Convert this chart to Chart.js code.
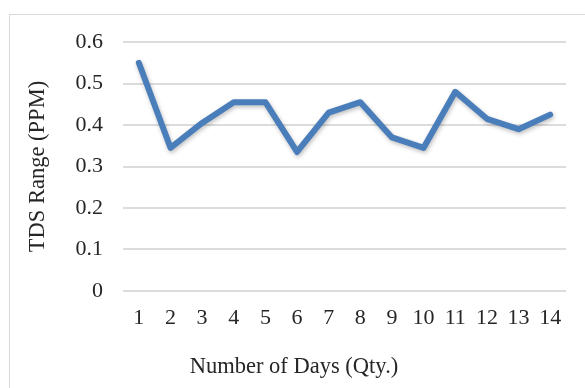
<!DOCTYPE html>
<html>
<head>
<meta charset="utf-8">
<script src="https://cdn.jsdelivr.net/npm/chart.js@4.4.0/dist/chart.umd.min.js"></script>
<style>
    html, body { margin: 0; padding: 0; background: #fff; overflow: hidden; }
    #wrap { position: relative; width: 585px; height: 388px; }
    #frame {
        position: absolute; left: 9px; top: 14px; width: 600px; height: 400px;
        border-left: 1px solid #d9d9d9; border-top: 1px solid #d9d9d9;
    }
    canvas { position: absolute; left: 0; top: 0; }
</style>
</head>
<body>
<div id="wrap">
    <div id="frame"></div>
    <canvas id="tdsChart" width="585" height="388"></canvas>
</div>
<script>
    const days = ['1', '2', '3', '4', '5', '6', '7', '8', '9', '10', '11', '12', '13', '14'];
    const tdsValues = [0.55, 0.345, 0.405, 0.455, 0.455, 0.335, 0.43, 0.455, 0.37, 0.345, 0.48, 0.415, 0.39, 0.425];
    const yTicks = [0, 0.1, 0.2, 0.3, 0.4, 0.5, 0.6];

    const serif = "'Liberation Serif', 'Times New Roman', serif";

    // soft drop shadow under the line, like the office chart
    const lineShadow = {
        id: 'lineShadow',
        beforeDatasetDraw(chart) {
            const ctx = chart.ctx;
            ctx.save();
            ctx.shadowColor = 'rgba(0, 0, 0, 0.25)';
            ctx.shadowBlur = 4;
            ctx.shadowOffsetX = 1;
            ctx.shadowOffsetY = 2;
        },
        afterDatasetDraw(chart) {
            chart.ctx.restore();
        }
    };

    const ctx = document.getElementById('tdsChart').getContext('2d');
    new Chart(ctx, {
        type: 'line',
        data: {
            labels: days,
            datasets: [{
                data: tdsValues,
                borderColor: '#4a7ebb',
                borderWidth: 6,
                borderJoinStyle: 'round',
                borderCapStyle: 'round',
                pointRadius: 0,
                tension: 0,
                fill: false
            }]
        },
        options: {
            responsive: false,
            animation: false,
            layout: { padding: { top: 42, right: 19, left: 22, bottom: 7 } },
            plugins: {
                legend: { display: false },
                tooltip: { enabled: false },
                // x axis title, centred on the whole chart as in the reference
                title: {
                    display: true,
                    position: 'bottom',
                    text: 'Number of Days (Qty.)',
                    color: '#262626',
                    font: { family: serif, size: 22.5, weight: 'normal' },
                    padding: 0
                }
            },
            scales: {
                x: {
                    offset: true,
                    afterFit: (scale) => { scale.height = 63; },
                    grid: { display: false, drawTicks: false },
                    border: { display: false },
                    ticks: {
                        color: '#262626',
                        font: { family: serif, size: 22 },
                        padding: 14,
                        maxRotation: 0,
                        autoSkip: false
                    }
                },
                y: {
                    min: 0,
                    max: 0.6,
                    afterFit: (scale) => { scale.width = 101; },
                    afterBuildTicks: (scale) => { scale.ticks = yTicks.map(v => ({ value: v })); },
                    grid: { color: '#dcdcdc', lineWidth: 2, drawTicks: false },
                    border: { display: false },
                    ticks: {
                        color: '#262626',
                        font: { family: serif, size: 22 },
                        padding: 20,
                        callback: (v) => v === 0 ? '0' : v.toFixed(1)
                    },
                    title: {
                        display: true,
                        text: 'TDS Range (PPM)',
                        color: '#262626',
                        font: { family: serif, size: 22.5 },
                        padding: { top: 3, bottom: 0 }
                    }
                }
            }
        },
        plugins: [lineShadow]
    });
</script>
</body>
</html>
